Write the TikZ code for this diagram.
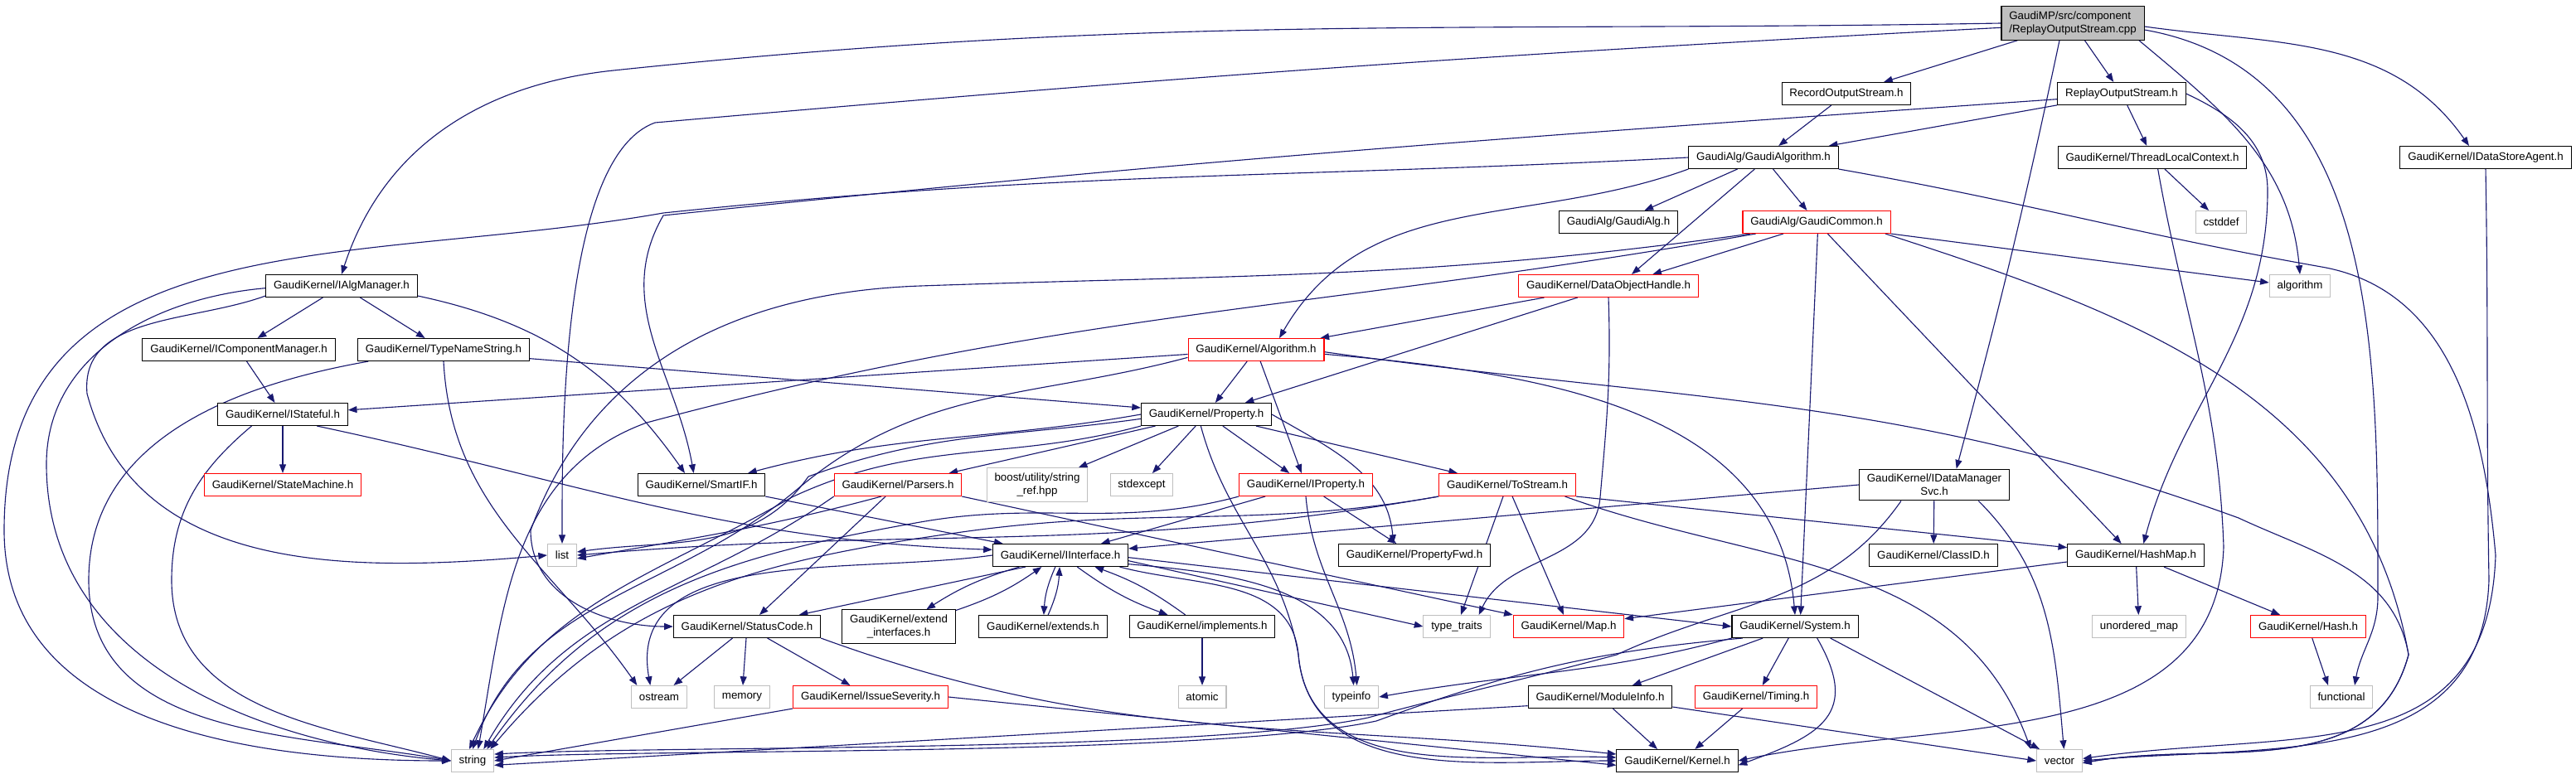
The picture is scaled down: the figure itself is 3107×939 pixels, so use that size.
\documentclass[tikz,border=0pt]{standalone}
\usepackage{fontspec}
\setmainfont{Liberation Sans}
\usepackage{tikz}
\usetikzlibrary{arrows.meta}
\definecolor{edgeBlue}{RGB}{25,25,112}
\definecolor{boxGray}{RGB}{191,191,191}
\newlength{\gridpt}
\setlength{\gridpt}{0.5pt}
\pgfdeclarelayer{edgeLayer}
\pgfsetlayers{edgeLayer,main}
\tikzstyle{headerNode} = [rectangle, draw=black, fill=white, font=\fontsize{5}{6}\selectfont, minimum height=10.125pt, inner xsep=3.5pt, inner ysep=2.25pt, line width=0.4pt]
\tikzstyle{redNode} = [headerNode, draw=red]
\tikzstyle{sysNode} = [headerNode, draw=boxGray]
\tikzstyle{fileNode} = [headerNode, fill=boxGray, align=left]
\tikzstyle{arrow} = [edgeBlue, line width=0.42pt, -{Triangle[length=4pt,width=3pt]}]

\begin{document}
\begin{tikzpicture}[x=0.375pt, y=0.375pt]
\useasboundingbox (0,0) rectangle (3107,-939);
\node (cpp) [fileNode] at (2500,-28) {GaudiMP/src/component\\/ReplayOutputStream.cpp};
\node (rec) [headerNode] at (2227,-113) {RecordOutputStream.h};
\node (rep) [headerNode] at (2559,-113) {ReplayOutputStream.h};
\node (galgo) [headerNode] at (2127,-190) {GaudiAlg/GaudiAlgorithm.h};
\node (tlc) [headerNode] at (2596,-190) {GaudiKernel/ThreadLocalContext.h};
\node (dsa) [headerNode] at (2998,-190) {GaudiKernel/IDataStoreAgent.h};
\node (galg) [headerNode] at (1952,-268) {GaudiAlg/GaudiAlg.h};
\node (gcom) [redNode] at (2191,-268) {GaudiAlg/GaudiCommon.h};
\node (cstddef) [sysNode] at (2679,-268) {cstddef};
\node (iam) [headerNode] at (412,-345) {GaudiKernel/IAlgManager.h};
\node (doh) [redNode] at (1940,-345) {GaudiKernel/DataObjectHandle.h};
\node (algorithm) [sysNode] at (2774,-345) {algorithm};
\node (icm) [headerNode] at (288,-422) {GaudiKernel/IComponentManager.h};
\node (tns) [headerNode] at (535,-422) {GaudiKernel/TypeNameString.h};
\node (alg) [redNode] at (1515,-422) {GaudiKernel/Algorithm.h};
\node (istf) [headerNode] at (341,-500) {GaudiKernel/IStateful.h};
\node (prop) [headerNode] at (1455,-500) {GaudiKernel/Property.h};
\node (sm) [redNode] at (341,-585) {GaudiKernel/StateMachine.h};
\node (smartif) [headerNode] at (846,-585) {GaudiKernel/SmartIF.h};
\node (pars) [redNode] at (1083,-585) {GaudiKernel/Parsers.h};
\node (sref) [sysNode, align=center] at (1251,-585) {boost/utility/string\\\_ref.hpp};
\node (stdexc) [sysNode] at (1377,-585) {stdexcept};
\node (iprop) [redNode] at (1575,-585) {GaudiKernel/IProperty.h};
\node (tostr) [redNode] at (1818,-585) {GaudiKernel/ToStream.h};
\node (idms) [headerNode, align=center] at (2333,-585) {GaudiKernel/IDataManager\\Svc.h};
\node (list) [sysNode] at (678,-670) {list};
\node (iint) [headerNode] at (1279,-670) {GaudiKernel/IInterface.h};
\node (pfwd) [headerNode] at (1706,-670) {GaudiKernel/PropertyFwd.h};
\node (clid) [headerNode] at (2332,-670) {GaudiKernel/ClassID.h};
\node (hmap) [headerNode] at (2576,-670) {GaudiKernel/HashMap.h};
\node (sc) [headerNode] at (901,-756) {GaudiKernel/StatusCode.h};
\node (extif) [headerNode, align=center] at (1084,-756) {GaudiKernel/extend\\\_interfaces.h};
\node (ext) [headerNode] at (1258,-756) {GaudiKernel/extends.h};
\node (impl) [headerNode] at (1450,-756) {GaudiKernel/implements.h};
\node (ttraits) [sysNode] at (1757,-756) {type\_traits};
\node (map) [redNode] at (1892,-756) {GaudiKernel/Map.h};
\node (sys) [headerNode] at (2165,-756) {GaudiKernel/System.h};
\node (umap) [sysNode] at (2580,-756) {unordered\_map};
\node (hash) [redNode] at (2784,-756) {GaudiKernel/Hash.h};
\node (ostream) [sysNode] at (795,-841) {ostream};
\node (memory) [sysNode] at (895,-841) {memory};
\node (isev) [redNode] at (1050,-841) {GaudiKernel/IssueSeverity.h};
\node (atomic) [sysNode] at (1450,-841) {atomic};
\node (typeinfo) [sysNode] at (1630,-841) {typeinfo};
\node (minfo) [headerNode] at (1930,-841) {GaudiKernel/ModuleInfo.h};
\node (timing) [redNode] at (2118,-841) {GaudiKernel/Timing.h};
\node (functional) [sysNode] at (2824,-841) {functional};
\node (string) [sysNode] at (570,-918) {string};
\node (kernel) [headerNode] at (2023,-918) {GaudiKernel/Kernel.h};
\node (vector) [sysNode] at (2484,-918) {vector};

\begin{pgfonlayer}{edgeLayer}
\draw [arrow] (cpp) -- (rec);
\draw [arrow] (cpp) -- (rep);
\draw [arrow] (cpp.west) to [out=181, in=6] (740,-85) to [out=186, in=72] (iam.north);
\draw [arrow] ([yshift=-4\gridpt]cpp.west) to [out=183, in=5] (790,-148) to [out=200, in=90, looseness=0.6] (list.north);
\draw [arrow] ([xshift=-12\gridpt]cpp.south) to [out=258, in=75] ([xshift=20\gridpt]idms.north);
\draw [arrow] ([xshift=-5\gridpt]cpp.south east) to [out=-40, in=95] (algorithm.north);
\draw [arrow] ([yshift=-6\gridpt]cpp.east) to [out=-10, in=90] (2868,-720) to [out=-90, in=80] ([xshift=12\gridpt]functional.north);
\draw [arrow] ([yshift=-3\gridpt]cpp.east) to [out=-8, in=125] ([xshift=-15\gridpt]dsa.north);
\draw [arrow] (rec) -- (galgo);
\draw [arrow] (rep) -- (galgo);
\draw [arrow] (rep) -- (tlc);
\draw [arrow] (rep.east) to [out=-25, in=90] (2735,-230) to [out=-90, in=75] ([xshift=7\gridpt]hmap.north);
\draw [arrow] ([yshift=-5\gridpt]rep.west) to [out=184, in=6] (800,-260) to [out=240, in=100] ([xshift=-7\gridpt]smartif.north);
\draw [arrow] (tlc) -- (cstddef);
\draw [arrow] ([xshift=5\gridpt]tlc.south) to [out=-80, in=92] (2682,-660) to [out=-92, in=12] (kernel.east);
\draw [arrow] (dsa.south) to [out=-89, in=91] (3002,-700) to [out=-92, in=5, looseness=1.1] (vector.east);
\draw [arrow] (galgo) -- (galg);
\draw [arrow] (galgo) -- (gcom);
\draw [arrow] ([xshift=-8\gridpt]galgo.south) -- ([xshift=21\gridpt]doh.north);
\draw [arrow] (galgo.south west) to [out=200, in=60] ([xshift=21\gridpt]alg.north);
\draw [arrow] (galgo.south east) to [out=-10, in=170] (2800,-322) to [out=-10, in=95] (3010,-670) to [out=-92, in=8, looseness=1.2] ([yshift=2\gridpt]vector.east);
\draw [arrow] (galgo.west) to [out=183, in=6] (800,-257) to [out=190, in=90, looseness=1.1] (5,-640) to [out=270, in=180] (string.west);
\draw [arrow] ([xshift=-30\gridpt]gcom.south) -- ([xshift=40\gridpt]doh.north);
\draw [arrow] (gcom.south east) -- ([yshift=3\gridpt]algorithm.west);
\draw [arrow] ([xshift=1\gridpt]gcom.south) -- ([xshift=5\gridpt]sys.north);
\draw [arrow] ([xshift=10\gridpt]gcom.south) -- ([xshift=-13\gridpt]hmap.north);
\draw [arrow] ([xshift=-5\gridpt]gcom.south east) to [out=-18, in=100] (2905,-790) to [out=-105, in=10] ([yshift=-2\gridpt]vector.east);
\draw [arrow] ([xshift=-60\gridpt]gcom.south) to [out=188, in=2] (1110,-345) to [out=182, in=70] (640,-640) to [out=-90, in=180] (sc.west);
\draw [arrow] ([xshift=-55\gridpt]gcom.south) to [out=190, in=15] (780,-510) to [out=200, in=80] ([xshift=5\gridpt]string.north);
\draw [arrow] (doh) -- (alg);
\draw [arrow] ([xshift=-28\gridpt]doh.south) -- ([xshift=35\gridpt]prop.north);
\draw [arrow] (doh.south) to [out=-88, in=85] (1930,-600) to [out=-95, in=65] ([xshift=20\gridpt]ttraits.north);
\draw [arrow] ([yshift=-2\gridpt]iam.west) to [out=185, in=90] (56,-560) to [out=270, in=175] (string.west);
\draw [arrow] ([yshift=-9\gridpt]iam.west) to [out=200, in=95] (105,-475) to [out=-75, in=185] (list.west);
\draw [arrow] (iam) -- (icm);
\draw [arrow] (iam) -- (tns);
\draw [arrow] ([yshift=-9\gridpt]iam.east) to [out=-12, in=125] ([xshift=-15\gridpt]smartif.north);
\draw [arrow] (icm) -- (istf);
\draw [arrow] ([yshift=-8\gridpt]tns.east) -- ([yshift=6\gridpt]prop.west);
\draw [arrow] (tns.south) to [out=-87, in=125] ([xshift=-20\gridpt]ostream.north);
\draw [arrow] ([xshift=10\gridpt]tns.south west) to [out=190, in=90] (107,-700) to [out=270, in=170] (string.west);
\draw [arrow] (istf) -- (sm);
\draw [arrow] ([xshift=31\gridpt]istf.south west) to [out=220, in=90] (207,-700) to [out=270, in=165] (string.west);
\draw [arrow] ([xshift=31\gridpt]istf.south) to [out=-12, in=178] ([yshift=5\gridpt]iint.west);
\draw [arrow] (alg) -- (istf);
\draw [arrow] (alg) -- (prop);
\draw [arrow] (alg) -- (iprop);
\draw [arrow] ([yshift=-4\gridpt]alg.east) to [out=-5, in=95] (sys.north);
\draw [arrow] ([yshift=-2\gridpt]alg.east) to [out=-8, in=160] (2700,-625) to [out=-25, in=100] (2905,-790) to [out=-105, in=10] ([yshift=-2\gridpt]vector.east);
\draw [arrow] ([yshift=-7\gridpt]alg.west) to [out=195, in=40] (962,-590) to [out=220, in=70] (string.north);
\draw [arrow] (prop.west) to [out=190, in=15] ([xshift=42\gridpt]smartif.north);
\draw [arrow] (prop) -- (pars);
\draw [arrow] (prop) -- (sref);
\draw [arrow] (prop) -- (stdexc);
\draw [arrow] (prop) -- (iprop);
\draw [arrow] (prop) -- (tostr);
\draw [arrow] (prop.east) to [out=-30, in=95] ([xshift=-19\gridpt]pfwd.north);
\draw [arrow] ([yshift=-4\gridpt]prop.west) to [out=188, in=20] (975,-575) to [out=235, in=8] ([yshift=3\gridpt]list.east);
\draw [arrow] (prop.south west) to [out=195, in=25] (955,-600) to [out=210, in=65] ([xshift=-3\gridpt]string.north);
\draw [arrow] ([xshift=-5\gridpt]prop.south) to [out=-75, in=100] (1566,-790) to [out=-85, in=178] ([yshift=3\gridpt]kernel.west);
\draw [arrow] ([xshift=-15\gridpt]pars.south) to [out=195, in=10] ([yshift=-3\gridpt]list.east);
\draw [arrow] (pars.south west) to [out=215, in=60] ([xshift=10\gridpt]string.north);
\draw [arrow] (pars) -- (sc);
\draw [arrow] (pars.south east) -- (map.north west);
\draw [arrow] (iprop) -- (iint);
\draw [arrow] (iprop) -- (pfwd);
\draw [arrow] (iprop.south) to [out=-85, in=95] ([xshift=5\gridpt]typeinfo.north);
\draw [arrow] (iprop.south west) to [out=195, in=10] (1110,-630) to [out=190, in=55] ([xshift=13\gridpt]string.north);
\draw [arrow] (tostr.south west) to [out=190, in=5] (list.east);
\draw [arrow] (tostr.south west) to [out=190, in=8] (1160,-642) to [out=188, in=50] ([xshift=16\gridpt]string.north);
\draw [arrow] (tostr) -- (map);
\draw [arrow] (tostr.south east) -- ([yshift=7\gridpt]hmap.west);
\draw [arrow] ([xshift=-10\gridpt]tostr.south east) to [out=-20, in=110] ([xshift=-26\gridpt]vector.north);
\draw [arrow] (tostr) -- (ttraits);
\draw [arrow] (idms.west) -- ([yshift=6\gridpt]iint.east);
\draw [arrow] (idms) -- (clid);
\draw [arrow] ([xshift=-30\gridpt]idms.south) to [out=235, in=25] (1950,-790) to [out=195, in=15] (1650,-866) to [out=192, in=3, looseness=0.5] ([yshift=6\gridpt]string.east);
\draw [arrow] ([xshift=40\gridpt]idms.south) to [out=-45, in=95] ([xshift=4\gridpt]vector.north);
\draw [arrow] ([xshift=30\gridpt]iint.south west) -- ([xshift=47\gridpt]sc.north);
\draw [arrow] (iint) to [bend right=8] (extif);
\draw [arrow] (extif) to [bend right=8] (iint);
\draw [arrow] (iint) to [bend right=10] (ext);
\draw [arrow] (ext) to [bend right=10] (iint);
\draw [arrow] (iint) to [bend right=8] (impl);
\draw [arrow] (impl) to [bend right=8] (iint);
\draw [arrow] ([yshift=-5\gridpt]iint.east) -- (ttraits.west);
\draw [arrow] ([yshift=-2\gridpt]iint.east) -- (sys.west);
\draw [arrow] ([yshift=-8\gridpt]iint.east) to [out=-5, in=95] ([xshift=2\gridpt]typeinfo.north);
\draw [arrow] ([xshift=-8\gridpt]iint.south east) to [out=-15, in=95] (1566,-790) to [out=-85, in=180] (kernel.west);
\draw [arrow] (iint.west) to [out=188, in=100] ([xshift=-8\gridpt]ostream.north);
\draw [arrow] (smartif.south east) -- ([xshift=-52\gridpt]iint.north);
\draw [arrow] (sc) -- (ostream);
\draw [arrow] (sc) -- (memory);
\draw [arrow] (sc) -- (isev);
\draw [arrow] (sc.south east) to [out=-20, in=174] ([yshift=6\gridpt]kernel.west);
\draw [arrow] (isev.south west) -- (string.east);
\draw [arrow] (isev.east) -- ([yshift=-4\gridpt]kernel.west);
\draw [arrow] (impl) -- (atomic);
\draw [arrow] (hmap) -- (umap);
\draw [arrow] (hmap) -- (hash);
\draw [arrow] ([yshift=-6\gridpt]hmap.west) -- ([yshift=7\gridpt]map.east);
\draw [arrow] (hash) -- ([xshift=-12\gridpt]functional.north);
\draw [arrow] (sys.south west) to [out=195, in=10] (typeinfo.east);
\draw [arrow] ([xshift=10\gridpt]sys.south west) to [out=185, in=20] (1660,-870) to [out=192, in=3, looseness=0.5] ([yshift=3\gridpt]string.east);
\draw [arrow] (sys) -- (minfo);
\draw [arrow] (sys) -- (timing);
\draw [arrow] ([xshift=20\gridpt]sys.south) to [out=-60, in=20, looseness=1.5] ([yshift=-4\gridpt]kernel.east);
\draw [arrow] ([xshift=32\gridpt]sys.south) -- ([xshift=-18\gridpt]vector.north);
\draw [arrow] (minfo) -- ([xshift=-18\gridpt]kernel.north);
\draw [arrow] ([yshift=-8\gridpt]minfo.west) -- ([yshift=-4\gridpt]string.east);
\draw [arrow] ([yshift=-9\gridpt]minfo.east) -- (vector.west);
\draw [arrow] (timing) -- ([xshift=16\gridpt]kernel.north);
\end{pgfonlayer}
\end{tikzpicture}
\end{document}
